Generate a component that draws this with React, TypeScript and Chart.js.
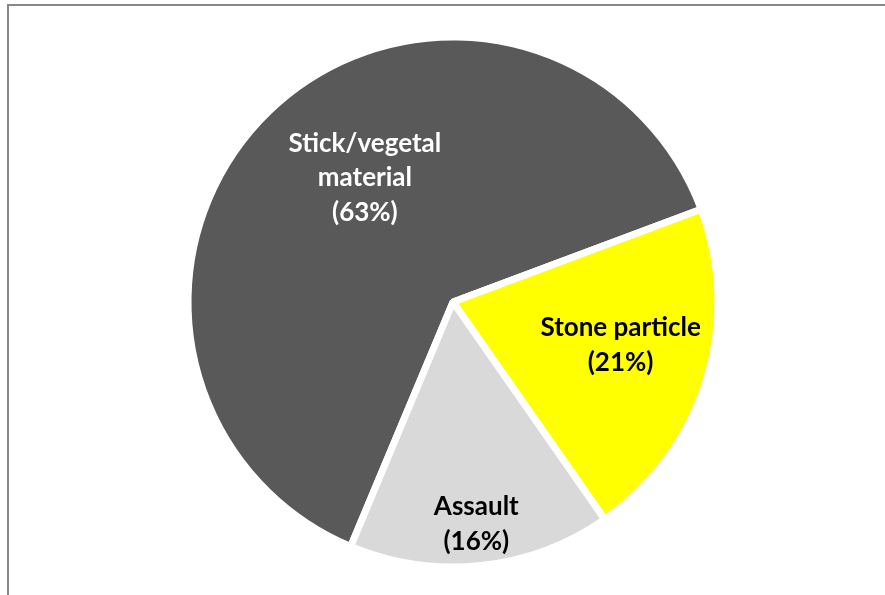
import React, { useEffect, useRef } from "react";
import { Chart, registerables } from "chart.js";

Chart.register(...registerables);

const categories: string[][] = [["Stick/vegetal", "material"], ["Stone particle"], ["Assault"]];
const values: number[] = [63, 21, 16];
const colors: string[] = ["#595959", "#FFFF00", "#D9D9D9"];
const labelColors: string[] = ["#FFFFFF", "#000000", "#000000"];
// [fraction of radius, angle shift in degrees]
const labelPlacement: number[][] = [[0.574, 8.5], [0.653, -2.9], [0.842, 0.1]];

const framePlugin = {
  id: "frame",
  beforeDraw(chart: any) {
    const ctx = chart.ctx;
    ctx.save();
    ctx.fillStyle = "#FFFFFF";
    ctx.fillRect(0, 0, chart.width, chart.height);
    ctx.fillStyle = "#878787";
    ctx.fillRect(7, 4, chart.width - 7, 2);
    ctx.fillRect(7, 4, 2, chart.height - 4);
    ctx.restore();
  },
};

const labelPlugin = {
  id: "sliceLabels",
  afterDatasetsDraw(chart: any) {
    const ctx = chart.ctx;
    const meta = chart.getDatasetMeta(0);
    const total = values.reduce((a, b) => a + b, 0);
    ctx.save();
    ctx.font = "bold 26px Lato, 'Open Sans', sans-serif";
    ctx.textAlign = "center";
    ctx.textBaseline = "middle";
    meta.data.forEach((arc: any, i: number) => {
      const p = arc.getProps(["x", "y", "startAngle", "endAngle", "outerRadius"], true);
      const mid = (p.startAngle + p.endAngle) / 2 + (labelPlacement[i][1] * Math.PI) / 180;
      const r = p.outerRadius * labelPlacement[i][0];
      const cx = p.x + Math.cos(mid) * r;
      const cy = p.y + Math.sin(mid) * r;
      const lines = [...categories[i], "(" + Math.round((values[i] / total) * 100) + "%)"];
      const lh = 34.5;
      ctx.fillStyle = labelColors[i];
      lines.forEach((ln, k) => {
        ctx.fillText(ln, cx, cy + (k - (lines.length - 1) / 2) * lh);
      });
    });
    ctx.restore();
  },
};

export default function App() {
  const ref = useRef<HTMLCanvasElement | null>(null);
  useEffect(() => {
    if (!ref.current) return;
    const chart = new Chart(ref.current, {
      type: "pie",
      data: {
        labels: categories.map((c) => c.join(" ")),
        datasets: [
          {
            data: values,
            backgroundColor: colors,
            borderColor: "#FFFFFF",
            borderWidth: 7,
            borderAlign: "center",
            borderJoinStyle: "bevel",
          },
        ],
      },
      options: {
        responsive: false,
        animation: false,
        rotation: 202.7,
        radius: 265,
        layout: { padding: { left: 21, top: 9, right: 0, bottom: 0 } },
        plugins: {
          legend: { display: false },
          tooltip: { enabled: false },
          title: { display: false },
        },
      },
      plugins: [framePlugin, labelPlugin],
    });
    return () => chart.destroy();
  }, []);
  return (
    <div style={{ position: "fixed", left: 0, top: 0, width: 885, height: 595, overflow: "hidden" }}>
      <canvas ref={ref} width={885} height={595} style={{ display: "block" }} />
    </div>
  );
}
